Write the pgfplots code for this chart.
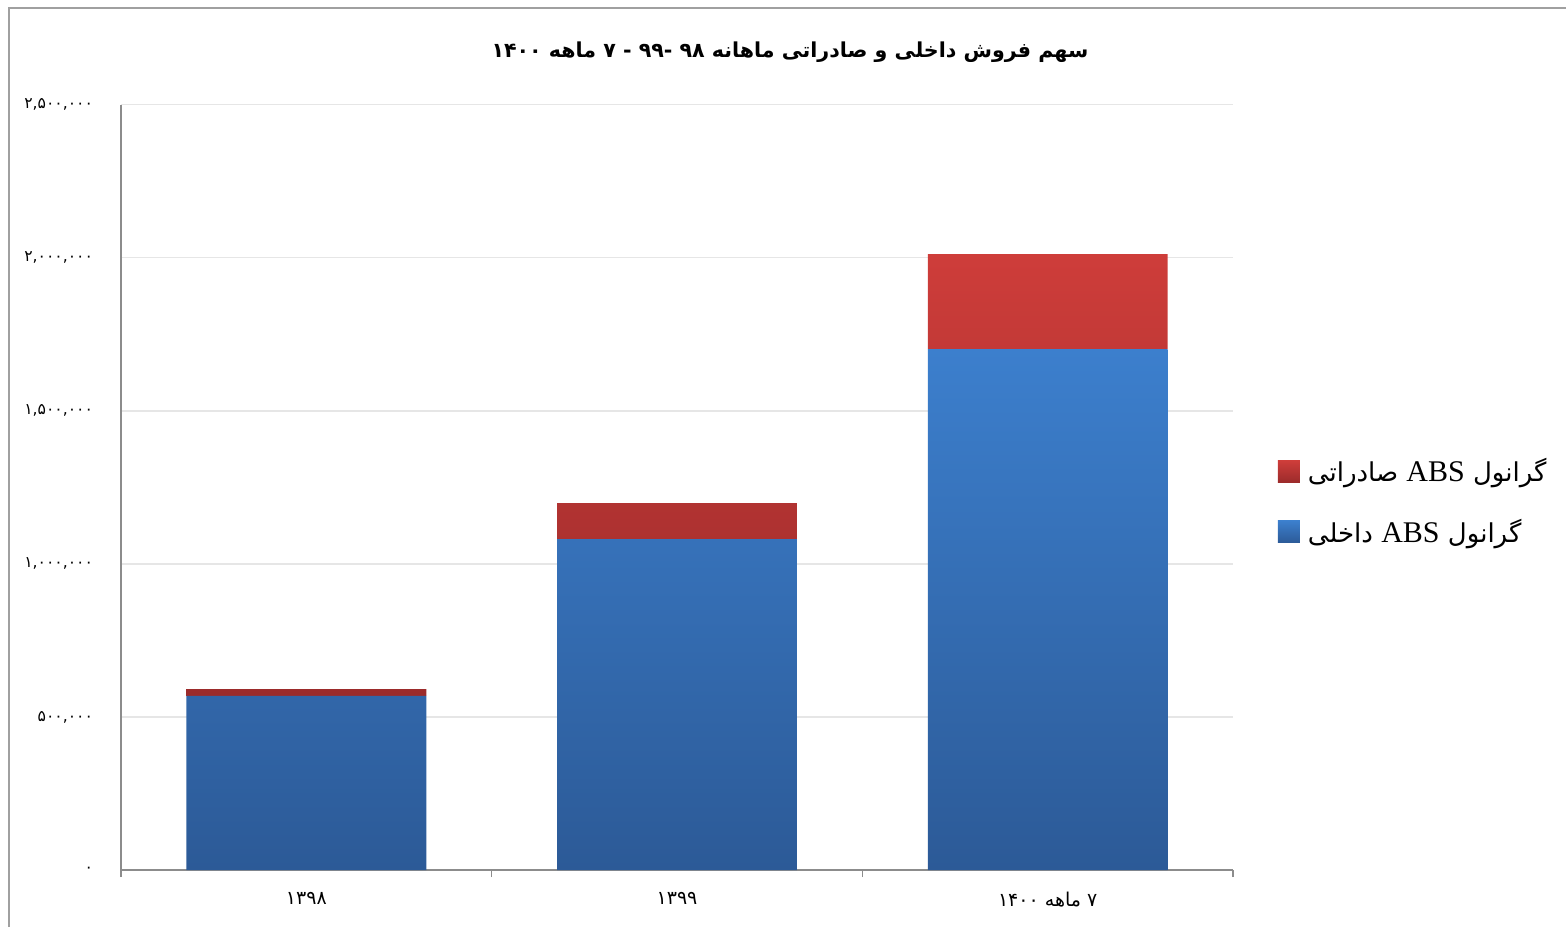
\documentclass[border=0pt]{standalone}
\usepackage{fontspec}
\usepackage{pgfplots}
\pgfplotsset{compat=1.18}
\TeXXeTstate=1
\setmainfont{DejaVu Sans}
\newfontfamily\arabicfont[Script=Arabic]{DejaVu Sans}
\newfontfamily\latinserif{Liberation Serif}

\definecolor{blueTop}{HTML}{3C7FCD}
\definecolor{blueBot}{HTML}{2C5A97}
\definecolor{redTop}{HTML}{CE3D3A}
\definecolor{redBot}{HTML}{9B2B2B}
\definecolor{axisgray}{HTML}{8C8C8C}
\definecolor{gridgray}{HTML}{E6E6E6}
\definecolor{framegray}{HTML}{A0A0A0}

\pgfplotsset{
  squarelegend/.style={
    legend image code/.code={\path[##1,draw=none] (0pt,-5.5pt) rectangle (11pt,5.5pt);}
  }
}

\begin{document}
\begin{tikzpicture}
\useasboundingbox (0,0) rectangle (783pt,-463.5pt);
\draw[framegray, line width=0.8pt] (4.5pt,-463.5pt) -- (4.5pt,-4pt) -- (783pt,-4pt);
\node[font=\arabicfont\bfseries\fontsize{10.3}{12}\selectfont] at (395pt,-26pt)
  {\beginR سهم فروش داخلی و صادراتی ماهانه \beginL۹۸\endL{} -\beginL۹۹\endL{} - ۷ ماهه \beginL۱۴۰۰\endL\endR};
\begin{axis}[
    at={(60.5pt,-435pt)}, anchor=south west,
    scale only axis, width=556pt, height=382.75pt,
    ybar stacked, bar width=0.647,
    xmin=-0.5, xmax=2.5,
    ymin=0, ymax=2500000,
    scaled y ticks=false,
    axis x line*=bottom, axis y line*=left,
    axis line style={draw=axisgray, line width=1pt, -},
    xtick={-0.5,0.5,1.5,2.5}, xticklabels={},
    xtick style={draw=axisgray, line width=0.8pt},
    tick align=outside, major tick length=3.5pt,
    extra x ticks={0,1,2},
    extra x tick labels={{۱۳۹۸},{۱۳۹۹},{\mbox{\arabicfont\beginR ۷ ماهه \beginL۱۴۰۰\endL\endR}}},
    extra x tick style={major tick length=0pt, xticklabel style={font=\fontsize{9.5}{11}\selectfont, yshift=-7.5pt}},
    ytick={0,500000,1000000,1500000,2000000,2500000},
    yticklabels={۰,{۵۰۰,۰۰۰},{۱,۰۰۰,۰۰۰},{۱,۵۰۰,۰۰۰},{۲,۰۰۰,۰۰۰},{۲,۵۰۰,۰۰۰}},
    yticklabel style={font=\fontsize{7.8}{9}\selectfont, xshift=-7pt},
    ytick style={draw=none},
    ymajorgrids, grid style={gridgray, line width=0.8pt},
    reverse legend,
    legend style={draw=none, fill=none, at={(1.0346,0.481)}, anchor=west,
        font=\fontsize{13}{16}\selectfont, row sep=13pt,
        nodes={inner xsep=4pt}},
    legend cell align=left,
]
\addplot[draw=none, top color=blueTop, bottom color=blueBot, squarelegend]
    coordinates {(0,569000) (1,1081000) (2,1701000)};
\addlegendentry{\arabicfont\beginR گرانول \beginL{\latinserif\fontsize{15}{16}\selectfont ABS}\endL{} داخلی\endR}
\addplot[draw=none, top color=redTop, bottom color=redBot, squarelegend]
    coordinates {(0,22000) (1,117600) (2,310500)};
\addlegendentry{\arabicfont\beginR گرانول \beginL{\latinserif\fontsize{15}{16}\selectfont ABS}\endL{} صادراتی\endR}
\end{axis}
\end{tikzpicture}
\end{document}
